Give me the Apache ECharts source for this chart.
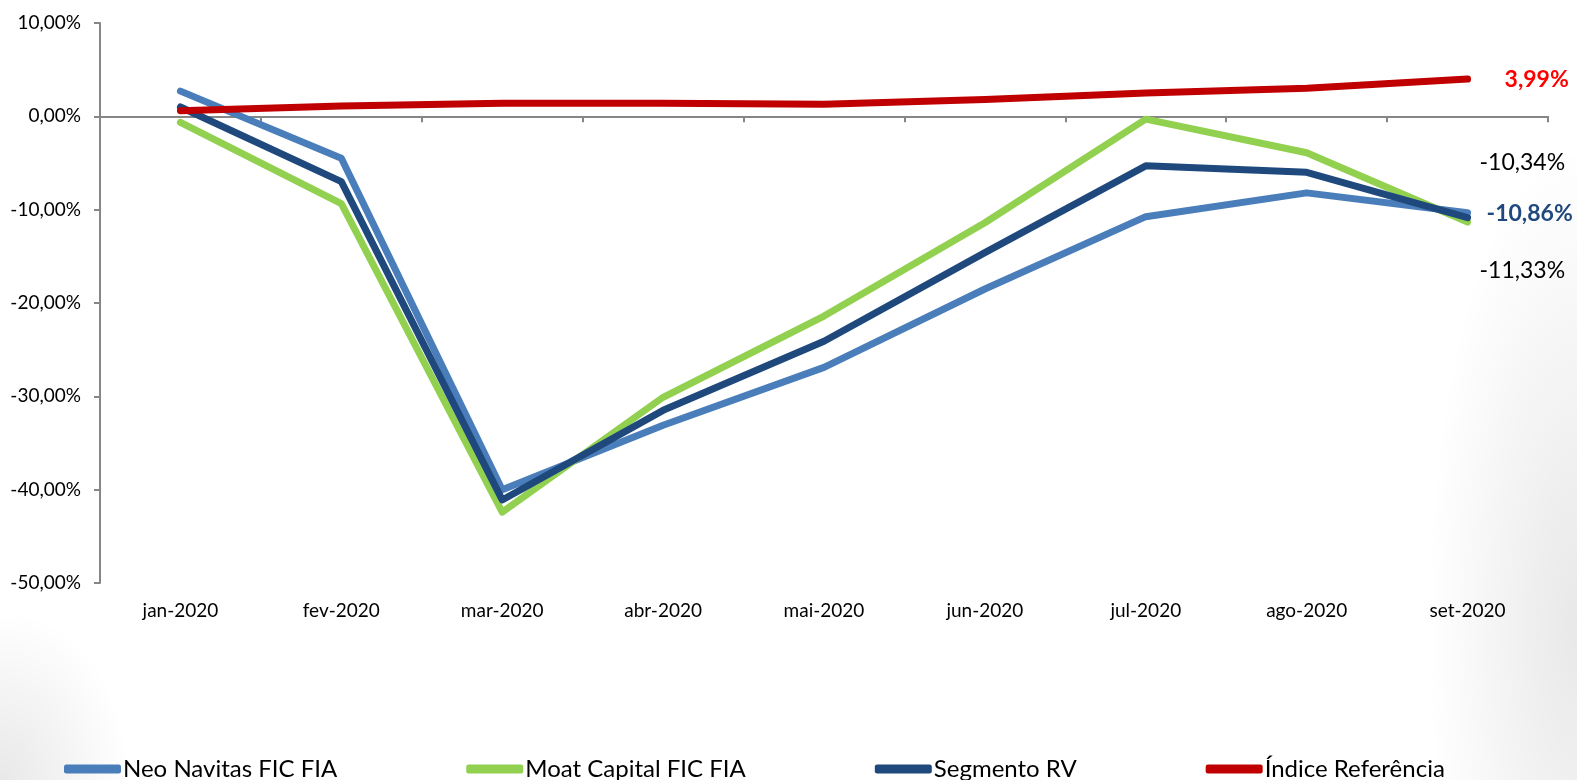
<!DOCTYPE html>
<html>
<head>
<meta charset="utf-8">
<script src="https://cdn.jsdelivr.net/npm/echarts@6/dist/echarts.min.js"></script>
<style>
html,body{margin:0;padding:0;width:1577px;height:780px;overflow:hidden;
background:
  radial-gradient(ellipse 130px 170px at 0% 100%, rgba(0,0,0,0.09), rgba(0,0,0,0)),
  radial-gradient(ellipse 150px 480px at 100% 80%, rgba(0,0,0,0.09), rgba(0,0,0,0)),
  #ffffff;}
#chart{width:1577px;height:780px;}
</style>
</head>
<body>
<div id="chart"></div>
<script>
const categories = ['jan-2020','fev-2020','mar-2020','abr-2020','mai-2020','jun-2020','jul-2020','ago-2020','set-2020'];
const neoNavitas = [2.7, -4.5, -40.0, -33.1, -26.9, -18.5, -10.75, -8.2, -10.34];
const moatCapital = [-0.65, -9.35, -42.4, -30.1, -21.4, -11.4, -0.3, -3.9, -11.33];
const segmentoRV = [1.0, -7.0, -41.1, -31.5, -24.1, -14.6, -5.3, -6.0, -10.86];
const indiceRef = [0.6, 1.1, 1.4, 1.4, 1.3, 1.8, 2.5, 3.0, 3.99];
const seriesNames = ['Neo Navitas FIC FIA','Moat Capital FIC FIA','Segmento RV','Índice Referência'];
const seriesColors = ['#4a7ebb','#92d050','#1f497d','#c00000'];

const FONT = 'Lato, "Liberation Sans", sans-serif';
const fmt = v => v.toFixed(2).replace('.', ',') + '%';

function endLbl(color, bold, distance, dy) {
  return {
    show: true,
    distance: distance,
    offset: [0, dy],
    fontFamily: FONT,
    fontSize: 23,
    fontWeight: bold ? 'bold' : 'normal',
    color: color,
    formatter: p => fmt(p.value)
  };
}

function mkSeries(name, data, color, endLabel) {
  return {
    name: name, type: 'line', data: data, xAxisIndex: 0,
    symbol: 'none', smooth: false,
    lineStyle: { color: color, width: 7, cap: 'round', join: 'round' },
    itemStyle: { color: color },
    endLabel: endLabel,
    labelLayout: { hideOverlap: false },
    emphasis: { disabled: true },
    animation: false
  };
}

const chart = echarts.init(document.getElementById('chart'), null, {renderer: 'canvas'});
chart.setOption({
  backgroundColor: 'transparent',
  animation: false,
  grid: { left: 100, right: 29, top: 23, bottom: 197, containLabel: false },
  legend: {
    data: seriesNames,
    left: 64, top: 757,
    padding: 0,
    itemGap: 129,
    itemWidth: 57, itemHeight: 9,
    icon: 'roundRect',
    textStyle: { fontFamily: FONT, fontSize: 24, color: '#000', padding: [0,0,0,-3] }
  },
  xAxis: [
    {
      type: 'category', data: categories, position: 'bottom',
      boundaryGap: true,
      axisLine: { show: true, onZero: true, lineStyle: { color: '#868686', width: 2 } },
      axisTick: { show: true, length: 6, inside: false, lineStyle: { color: '#868686', width: 2 } },
      axisLabel: { show: false },
      splitLine: { show: false }
    },
    {
      type: 'category', data: categories, position: 'bottom',
      boundaryGap: true,
      axisLine: { show: false, onZero: false },
      axisTick: { show: false },
      axisLabel: { show: true, margin: 18, fontFamily: FONT, fontSize: 19, color: '#000' },
      splitLine: { show: false }
    }
  ],
  yAxis: {
    type: 'value', min: -50, max: 10, interval: 10,
    axisLine: { show: true, lineStyle: { color: '#868686', width: 2 } },
    axisTick: { show: true, length: 6, lineStyle: { color: '#868686', width: 2 } },
    axisLabel: { margin: 19, fontFamily: FONT, fontSize: 19, color: '#000',
      formatter: v => v.toFixed(2).replace('.', ',') + '%' },
    splitLine: { show: false }
  },
  series: [
    mkSeries(seriesNames[0], neoNavitas, seriesColors[0], endLbl('#000', false, 12, -50)),
    mkSeries(seriesNames[1], moatCapital, seriesColors[1], endLbl('#000', false, 12, 48)),
    mkSeries(seriesNames[2], segmentoRV, seriesColors[2], endLbl('#1f497d', true, 19, -4)),
    mkSeries(seriesNames[3], indiceRef, seriesColors[3], endLbl('#ff0000', true, 37, 0))
  ]
});
</script>
</body>
</html>
